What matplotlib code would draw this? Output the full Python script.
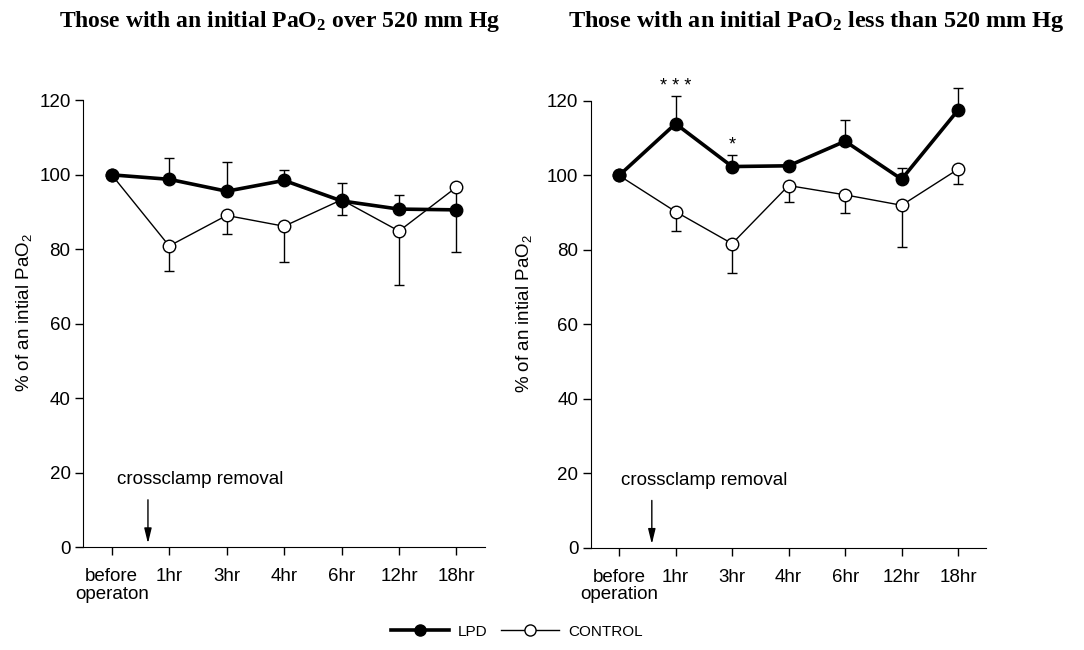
import numpy
import matplotlib
matplotlib.use("Agg")
import matplotlib.pyplot as plt
from matplotlib.lines import Line2D

plt.rcParams["font.family"] = ["Liberation Sans", "DejaVu Sans"]
plt.rcParams["mathtext.default"] = "regular"

time_labels_left  = ["before\noperaton", "1hr", "3hr", "4hr", "6hr", "12hr", "18hr"]
time_labels_right = ["before\noperation", "1hr", "3hr", "4hr", "6hr", "12hr", "18hr"]

# left panel: initial PaO2 over 520 mm Hg
left_lpd        = [100, 98.8, 95.6, 98.5, 93.0, 90.8, 90.6]
left_lpd_err_up = [0, 5.8, 7.9, 2.7, 4.9, 3.9, 0]
left_ctl        = [100, 80.9, 89.1, 86.2, 93.3, 84.9, 96.7]
left_ctl_err_dn = [0, 6.8, 5.0, 9.7, 4.2, 14.4, 17.4]

# right panel: initial PaO2 less than 520 mm Hg
right_lpd        = [100, 113.9, 102.4, 102.6, 109.2, 99.0, 117.6]
right_lpd_err_up = [0, 7.4, 3.0, 0, 5.8, 3.0, 5.9]
right_ctl        = [100, 90.3, 81.7, 97.3, 94.8, 92.0, 101.7]
right_ctl_err_dn = [0, 5.3, 7.9, 4.5, 4.8, 11.2, 4.1]

right_stars = {1: "* * *", 2: "*"}


def draw_panel(ax, labels, lpd, lpd_up, ctl, ctl_dn, arrow_x, text_x, label_x, stars=None):
    x = numpy.arange(len(labels))
    zeros = numpy.zeros(len(labels))

    ax.errorbar(x, lpd, yerr=[zeros, lpd_up], fmt="none", ecolor="black",
                elinewidth=1.0, capsize=3.5, capthick=1.0, zorder=2, clip_on=False)
    ax.errorbar(x, ctl, yerr=[ctl_dn, zeros], fmt="none", ecolor="black",
                elinewidth=1.0, capsize=3.5, capthick=1.0, zorder=2, clip_on=False)

    ax.plot(x, ctl, color="black", lw=1.0, marker="o", markersize=9,
            markerfacecolor="white", markeredgecolor="black", markeredgewidth=1.0,
            zorder=3, clip_on=False)
    ax.plot(x, lpd, color="black", lw=2.6, marker="o", markersize=9,
            markerfacecolor="black", markeredgecolor="black", zorder=4, clip_on=False)

    if stars:
        for i, s in stars.items():
            top = lpd[i] + lpd_up[i]
            ax.text(x[i], top + 0.4, s, ha="center", va="bottom", fontsize=13)

    ax.annotate("", xy=(arrow_x, 0.3), xytext=(arrow_x, 13.5),
                arrowprops=dict(arrowstyle="-|>,head_length=0.9,head_width=0.22",
                                color="black", lw=1.0))
    ax.text(text_x, 15.8, "crossclamp removal", fontsize=13.5, ha="left", va="bottom")

    ax.set_xlim(-0.5, 6.5)
    ax.set_ylim(0, 126)
    ax.spines["top"].set_visible(False)
    ax.spines["right"].set_visible(False)
    ax.spines["left"].set_bounds(0, 120)
    ax.set_yticks([0, 20, 40, 60, 80, 100, 120])
    ax.set_xticks(x)
    ax.set_xticklabels(labels, fontsize=13.5, va="top", linespacing=1.05)
    ax.tick_params(axis="y", labelsize=13.5, direction="out", length=6, width=1.0, pad=3)
    ax.tick_params(axis="x", direction="out", length=6, width=1.0, pad=9)
    ax.set_ylabel("% of an intial PaO$_2$", fontsize=13.5)
    ax.yaxis.set_label_coords(label_x, 0.5)


fig = plt.figure(figsize=(10.84, 6.5), dpi=100)

ax1 = fig.add_axes([0.0766, 0.158, 0.371, 0.722])
draw_panel(ax1, time_labels_left, left_lpd, left_lpd_err_up, left_ctl, left_ctl_err_dn,
           0.63, 0.09, -0.122)

ax2 = fig.add_axes([0.545, 0.157, 0.365, 0.722])
draw_panel(ax2, time_labels_right, right_lpd, right_lpd_err_up, right_ctl, right_ctl_err_dn,
           0.58, 0.04, -0.144, right_stars)

fig.text(0.258, 0.967, "Those with an initial PaO$_2$ over 520 mm Hg",
         family="Liberation Serif", weight="bold", fontsize=17, ha="center", va="center")
fig.text(0.753, 0.967, "Those with an initial PaO$_2$ less than 520 mm Hg",
         family="Liberation Serif", weight="bold", fontsize=17.5, ha="center", va="center")

handles = [
    Line2D([], [], color="black", lw=2.6, marker="o", markersize=8,
           markerfacecolor="black"),
    Line2D([], [], color="black", lw=1.0, marker="o", markersize=8,
           markerfacecolor="white"),
]
fig.legend(handles, ["LPD", "CONTROL"], loc="center", bbox_to_anchor=(0.477, 0.028),
           ncol=2, frameon=False, fontsize=11, handlelength=3.8, columnspacing=0.9,
           handletextpad=0.6)

plt.savefig("out.png", dpi=100)
